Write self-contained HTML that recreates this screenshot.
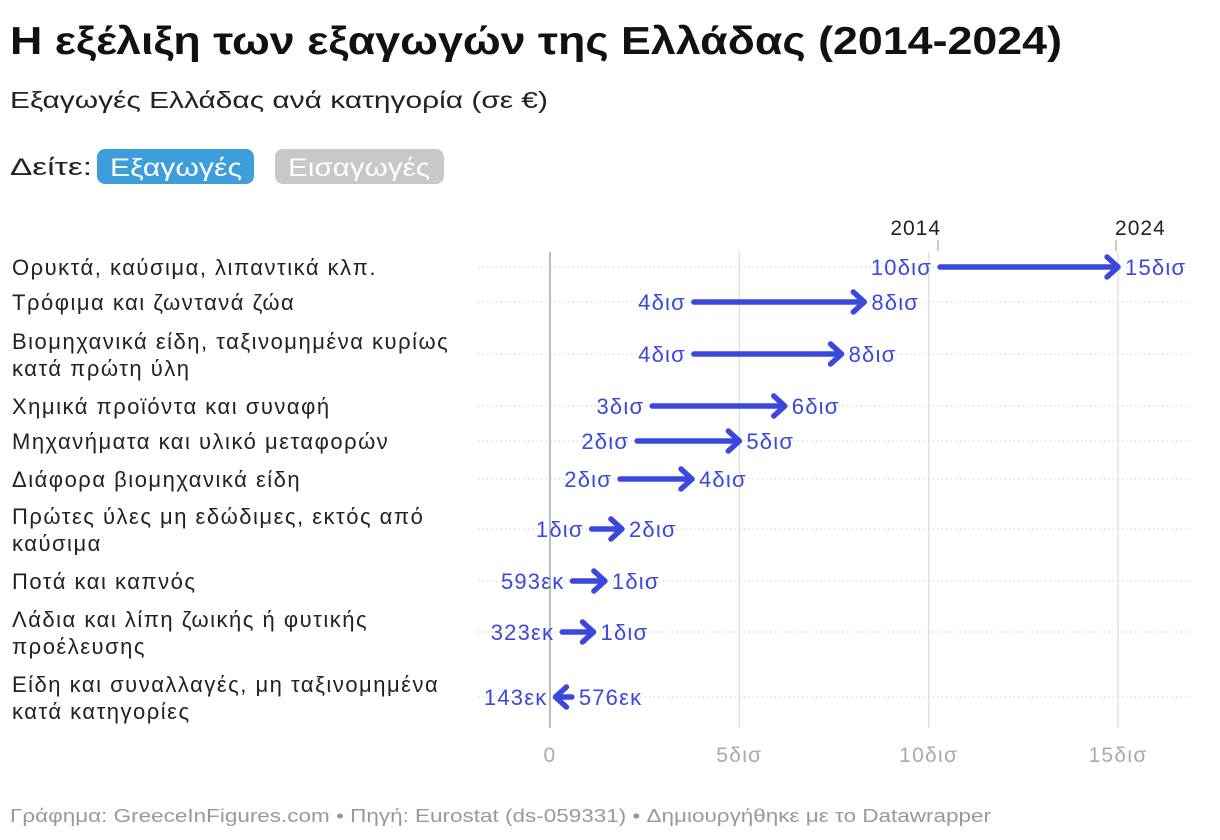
<!DOCTYPE html>
<html><head><meta charset="utf-8">
<style>
body{margin:0;background:#fff;font-family:"Liberation Sans","DejaVu Sans",sans-serif;}
#wrap{position:relative;width:1220px;height:840px;overflow:hidden;}
</style></head>
<body>
<div id="wrap">
<svg id="chart" width="1220" height="840" xmlns="http://www.w3.org/2000/svg">
<text x="10" y="54" font-size="39" font-weight="bold" fill="#111" textLength="1052" lengthAdjust="spacingAndGlyphs">Η εξέλιξη των εξαγωγών της Ελλάδας (2014-2024)</text>
<text x="10" y="108" font-size="23" fill="#222" textLength="538" lengthAdjust="spacingAndGlyphs">Εξαγωγές Ελλάδας ανά κατηγορία (σε €)</text>
<text x="10" y="175" font-size="24" fill="#222" textLength="82" lengthAdjust="spacingAndGlyphs">Δείτε:</text>
<g><rect x="97" y="149" width="157" height="35" rx="8" fill="#3e9edc"/><text x="110" y="176" font-size="25" fill="#fff" textLength="132" lengthAdjust="spacingAndGlyphs">Εξαγωγές</text></g>
<g><rect x="275" y="149" width="169" height="35" rx="8" fill="#c8c8c8"/><text x="288" y="176" font-size="25" fill="#fff" textLength="142" lengthAdjust="spacingAndGlyphs">Εισαγωγές</text></g>
<g id="grid"></g>
<g id="rows"></g>
<text x="10" y="822" font-size="18" fill="#999" textLength="981" lengthAdjust="spacingAndGlyphs">Γράφημα: GreeceInFigures.com • Πηγή: Eurostat (ds-059331) • Δημιουργήθηκε με το Datawrapper</text>
</svg>
</div>
<script>
const categories=[["Ορυκτά, καύσιμα, λιπαντικά κλπ."],["Τρόφιμα και ζωντανά ζώα"],["Βιομηχανικά είδη, ταξινομημένα κυρίως","κατά πρώτη ύλη"],["Χημικά προϊόντα και συναφή"],["Μηχανήματα και υλικό μεταφορών"],["Διάφορα βιομηχανικά είδη"],["Πρώτες ύλες μη εδώδιμες, εκτός από","καύσιμα"],["Ποτά και καπνός"],["Λάδια και λίπη ζωικής ή φυτικής","προέλευσης"],["Είδη και συναλλαγές, μη ταξινομημένα","κατά κατηγορίες"]];
const values2014=[10.3,3.8,3.8,2.7,2.3,1.85,1.1,0.593,0.323,0.576];
const values2024=[15.0,8.3,7.7,6.2,5.0,3.75,1.9,1.45,1.15,0.143];
const labels2014=["10δισ","4δισ","4δισ","3δισ","2δισ","2δισ","1δισ","593εκ","323εκ","576εκ"];
const labels2024=["15δισ","8δισ","8δισ","6δισ","5δισ","4δισ","2δισ","1δισ","1δισ","143εκ"];
const tickValues=[0,5,10,15];
const tickLabels=["0","5δισ","10δισ","15δισ"];
const rowY=[267,302,354,406,441,479,529,581,632,697];
const NS="http://www.w3.org/2000/svg";
const x=v=>550+v*37.87;
const C="#3b48dc";
function mk(tag,attrs,parent,txt){const e=document.createElementNS(NS,tag);for(const k in attrs)e.setAttribute(k,attrs[k]);if(txt!==undefined)e.textContent=txt;parent.appendChild(e);return e;}
const grid=document.getElementById('grid'),rows=document.getElementById('rows');
tickValues.forEach((t,i)=>{
  const l=mk('line',{x1:x(t),x2:x(t),y1:252,y2:728,stroke:t===0?'#bbb':'#e2e2e2','stroke-width':t===0?2:1.5},grid);
  
  
  const tx=mk('text',{x:x(t),y:762,'font-size':21,'letter-spacing':1.3,fill:'#aaa','text-anchor':'middle'},grid,tickLabels[i]);
  
  
});
[[values2014[0],"2014","end",1],[values2024[0],"2024","start",-3]].forEach(([v,l,anc,off])=>{
  const t=mk('text',{x:x(v)+off,y:235,'font-size':21,'letter-spacing':1,fill:'#222','text-anchor':anc},grid,l);
  
  
  mk('line',{x1:x(v)-2,x2:x(v)-2,y1:240,y2:251,stroke:'#999','stroke-width':1},grid);
});
categories.forEach((c,i)=>{
  const y=rowY[i];
  const hl=mk('line',{x1:478,x2:1190,y1:y,y2:y,stroke:'#ccc','stroke-width':1,'stroke-dasharray':'1.5,3'},rows);
  
  
  const lab=mk('text',{x:12,'font-size':22,'letter-spacing':1.5,fill:'#222'},rows);
  
  
  if(c.length===1){mk('tspan',{x:12,y:y+8},lab,c[0]);}
  else{mk('tspan',{x:12,y:y-5},lab,c[0]);mk('tspan',{x:12,y:y+22},lab,c[1]);}
  const a=values2014[i],b=values2024[i];
  const xa=x(a),xb=x(b),dir=b>=a?1:-1;
  const g=mk('g',{},rows);
  
  
  mk('line',{x1:xa,x2:xb-dir*3,y1:y,y2:y,stroke:C,'stroke-width':5.5,'stroke-linecap':'round'},g);
  mk('polyline',{points:`${xb-dir*11},${y-10} ${xb},${y} ${xb-dir*11},${y+10}`,fill:'none',stroke:C,'stroke-width':5.5,'stroke-linecap':'round','stroke-linejoin':'round'},g);
  const lo=dir>0?[xa,labels2014[i]]:[xb,labels2024[i]];
  const hi=dir>0?[xb,labels2024[i]]:[xa,labels2014[i]];
  const t1=mk('text',{x:lo[0]-8,y:y+8,'font-size':22,'letter-spacing':1.2,fill:C,'text-anchor':'end'},g,lo[1]);
  
  
  const t2=mk('text',{x:hi[0]+7,y:y+8,'font-size':22,'letter-spacing':1.2,fill:C,'text-anchor':'start'},g,hi[1]);
  
  
});
</script>
</body></html>
